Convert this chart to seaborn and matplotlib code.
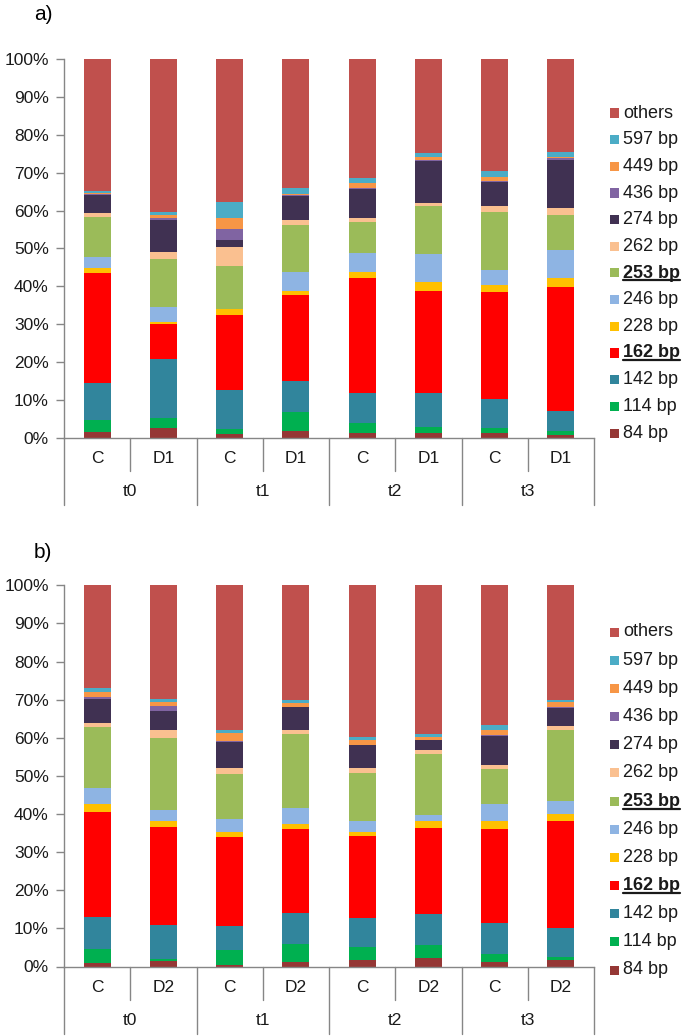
import numpy as np
import pandas as pd
import matplotlib
matplotlib.use("Agg")
import matplotlib.pyplot as plt
import matplotlib.transforms as mtransforms
from matplotlib.patches import Rectangle
from matplotlib.lines import Line2D
import seaborn as sns

# ---------------- data ----------------
sizes = ["others", "597 bp", "449 bp", "436 bp", "274 bp", "262 bp", "253 bp",
         "246 bp", "228 bp", "162 bp", "142 bp", "114 bp", "84 bp"]
colors = ["#C0504D", "#4BACC6", "#F79646", "#8064A2", "#403152", "#FAC090",
          "#9BBB59", "#8EB4E3", "#FFC000", "#FF0000", "#31859C", "#00B050",
          "#953735"]
bold_sizes = ["253 bp", "162 bp"]

times = ["t0", "t1", "t2", "t3"]
treat_a = ["C", "D1"]
treat_b = ["C", "D2"]

# panel a) percentages per bar: t0-C, t0-D1, t1-C, t1-D1, t2-C, t2-D1, t3-C, t3-D1
a_84 = [1.4, 2.6, 1.1, 1.8, 1.3, 1.3, 1.3, 0.7]
a_114 = [3.4, 2.5, 1.2, 5.1, 2.5, 1.6, 1.3, 1.1]
a_142 = [9.6, 15.8, 10.3, 8.1, 7.9, 8.8, 7.5, 5.2]
a_162 = [29.2, 9.1, 19.7, 22.6, 30.6, 27.2, 28.5, 32.9]
a_228 = [1.2, 0.5, 1.6, 1.3, 1.6, 2.2, 1.8, 2.4]
a_246 = [3.0, 4.0, 0.2, 5.0, 4.8, 7.4, 3.8, 7.3]
a_253 = [10.6, 12.8, 11.3, 12.3, 8.2, 12.7, 15.5, 9.3]
a_262 = [0.9, 1.8, 4.9, 1.2, 1.2, 0.9, 1.5, 1.7]
a_274 = [4.8, 8.3, 1.9, 6.5, 7.6, 11.1, 6.4, 12.8]
a_436 = [0.3, 0.7, 3.0, 0.2, 0.3, 0.2, 0.2, 0.6]
a_449 = [0.2, 0.7, 2.9, 0.3, 1.4, 0.8, 1.2, 0.3]
a_597 = [0.7, 0.9, 4.1, 1.6, 1.3, 1.0, 1.5, 1.3]
a_others = [34.7, 40.3, 37.8, 34.0, 31.3, 24.8, 29.5, 24.4]

# panel b) percentages per bar: t0-C, t0-D2, t1-C, t1-D2, t2-C, t2-D2, t3-C, t3-D2
b_84 = [0.9, 1.5, 0.5, 1.1, 1.6, 2.2, 1.2, 1.6]
b_114 = [3.6, 0.5, 3.7, 4.7, 3.5, 3.5, 2.2, 1.0]
b_142 = [8.6, 8.9, 6.4, 8.2, 7.7, 8.1, 8.0, 7.4]
b_162 = [27.4, 25.6, 23.5, 22.2, 21.4, 22.6, 24.6, 28.2]
b_228 = [2.1, 1.6, 1.2, 1.3, 1.0, 1.8, 2.2, 1.8]
b_246 = [4.1, 3.0, 3.4, 4.0, 3.1, 1.6, 4.5, 3.4]
b_253 = [16.1, 18.8, 11.7, 19.4, 12.5, 15.9, 9.0, 18.6]
b_262 = [1.2, 2.1, 1.8, 1.2, 1.4, 1.2, 1.2, 1.0]
b_274 = [6.3, 5.0, 6.7, 5.9, 5.8, 2.5, 7.5, 4.9]
b_436 = [0.4, 1.3, 0.2, 0.2, 0.2, 0.1, 0.3, 0.3]
b_449 = [1.3, 1.0, 2.2, 1.0, 1.2, 0.8, 1.4, 1.1]
b_597 = [1.1, 0.8, 0.8, 0.6, 0.9, 0.6, 1.3, 0.6]
b_others = [26.9, 29.9, 37.9, 30.2, 39.7, 39.1, 36.6, 30.1]

a_vals = dict(zip(sizes, [a_others, a_597, a_449, a_436, a_274, a_262, a_253,
                          a_246, a_228, a_162, a_142, a_114, a_84]))
b_vals = dict(zip(sizes, [b_others, b_597, b_449, b_436, b_274, b_262, b_253,
                          b_246, b_228, b_162, b_142, b_114, b_84]))

# ---------------- style ----------------
sns.set_theme(style="white")
plt.rcParams["font.family"] = ["Liberation Sans", "DejaVu Sans"]
TXT = "#1a1a1a"
AXC = "#868686"

W, H = 685, 1036
fig = plt.figure(figsize=(W / 100, H / 100), dpi=100)


def fx(x):
    return x / W


def fy(y):
    return 1 - y / H


def panel(vals, treats, top_px, bot_px, label, label_y, leg_top, leg_bot):
    left, right = 64, 594
    ax = fig.add_axes([fx(left), fy(bot_px), (right - left) / W, (bot_px - top_px) / H])
    rows = []
    for s in sizes:
        for i, v in enumerate(vals[s]):
            rows.append({"pos": i, "size": s, "value": v})
    df = pd.DataFrame(rows)
    sns.histplot(data=df, x="pos", weights="value", hue="size", hue_order=sizes,
                 multiple="stack", discrete=True, shrink=0.41,
                 palette=colors, alpha=1, linewidth=0, legend=False, ax=ax)
    ax.set_xlim(-0.5, 7.5)
    ax.set_ylim(0, 100)
    ax.set_xlabel("")
    ax.set_ylabel("")
    ax.set_xticks([])
    ax.set_yticks(np.arange(0, 101, 10))
    ax.set_yticklabels([f"{v}%" for v in range(0, 101, 10)])
    ax.tick_params(axis="y", length=6, width=1, color=AXC, direction="out",
                   pad=5, labelsize=12.5, labelcolor=TXT, left=True)
    for sp in ["top", "right"]:
        ax.spines[sp].set_visible(False)
    for sp in ["left", "bottom"]:
        ax.spines[sp].set_color(AXC)
        ax.spines[sp].set_linewidth(1)
    ax.grid(False)

    # category axis below
    trans = mtransforms.blended_transform_factory(ax.transData, ax.transAxes)
    hpx = bot_px - top_px
    short = 33 / hpx
    long_ = 67 / hpx
    for g in range(4):
        xb = 2 * g - 0.5
        ax.add_line(Line2D([xb, xb], [0, -long_], transform=trans, color=AXC,
                           lw=1, clip_on=False))
        ax.add_line(Line2D([xb + 1, xb + 1], [0, -short], transform=trans,
                           color=AXC, lw=1, clip_on=False))
        for k, t in enumerate(treats):
            ax.text(2 * g + k, -21 / hpx, t, transform=trans, ha="center",
                    va="center", fontsize=12.5, color=TXT)
        ax.text(2 * g + 0.5, -54 / hpx, times[g], transform=trans, ha="center",
                va="center", fontsize=12.5, color=TXT)
    ax.add_line(Line2D([7.5, 7.5], [0, -long_], transform=trans, color=AXC,
                       lw=1, clip_on=False))

    fig.text(fx(43), fy(label_y), label, ha="center", va="center",
             fontsize=15, color="black")

    # legend
    step = (leg_bot - leg_top) / (len(sizes) - 1)
    texts = []
    for i, (s, c) in enumerate(zip(sizes, colors)):
        yc = leg_top + i * step
        fig.patches.append(Rectangle((fx(610), fy(yc + 4.5)), 9 / W, 9 / H,
                                     transform=fig.transFigure, facecolor=c,
                                     edgecolor="none"))
        bold = s in bold_sizes
        t = fig.text(fx(623), fy(yc), s, ha="left", va="center", fontsize=13,
                     color=TXT, fontweight="bold" if bold else "normal")
        if bold:
            texts.append(t)
    return ax, texts


_, ta = panel(a_vals, treat_a, 59.3, 437.7, "a)", 15, 113, 433)
_, tb = panel(b_vals, treat_b, 585.3, 966.5, "b)", 552, 632, 970)

fig.canvas.draw()
r = fig.canvas.get_renderer()
inv = fig.transFigure.inverted()
for t in ta + tb:
    bb = t.get_window_extent(renderer=r).transformed(inv)
    y = bb.y0 + 1.0 / H
    fig.lines.append(Line2D([bb.x0, bb.x1], [y, y], transform=fig.transFigure,
                            color=TXT, lw=1.6))

fig.savefig("out.png", dpi=100)
